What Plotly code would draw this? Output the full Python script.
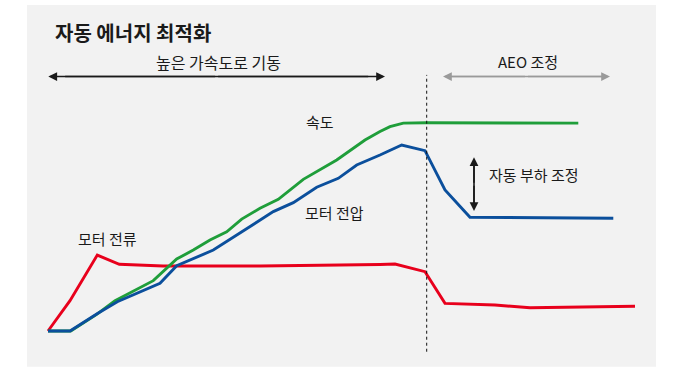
import plotly.graph_objects as go

# ---- data (time in s, value in % of max) ----
speed_t = [0, 2.27, 4.87, 6.7, 10.53, 12.87, 14.53, 16.2, 17.87, 19.37, 21.2, 23.03, 25.53, 28.87, 31.7, 33.2, 34.2, 35.53, 37.87, 53.03]
speed_v = [0, 0, 8.0, 14.6, 24.2, 34.6, 38.9, 43.75, 47.7, 53.8, 59.0, 63.3, 72.9, 82.2, 91.8, 95.9, 98.2, 99.9, 100.1, 99.9]

volt_t = [0, 2.2, 4.87, 6.93, 11.2, 12.87, 16.53, 20.2, 22.53, 24.53, 26.87, 29.03, 30.87, 33.2, 35.37, 37.7, 39.7, 42.2, 56.53]
volt_v = [0, 0, 8.2, 14.1, 22.9, 31.4, 38.9, 50.1, 57.4, 61.7, 69.1, 73.4, 79.8, 84.6, 89.4, 86.7, 67.8, 54.7, 54.2]

curr_t = [0, 2.2, 4.93, 7.13, 11.5, 21.2, 33.2, 34.7, 37.7, 39.7, 44.7, 48.2, 58.7]
curr_v = [0, 14.6, 36.5, 32.1, 31.25, 31.25, 32.0, 32.2, 28.5, 13.3, 12.5, 11.2, 11.9]

phase_switch_t = 37.87
phase1 = [0.03, 33.7]
phase2 = [39.5, 56.2]
load_adjust = [83.5, 57.7]
load_adjust_t = 42.6

title = "자동 에너지 최적화"
phase1_label = "높은 가속도로 기동"
phase2_label = "AEO 조정"
speed_label = "속도"
volt_label = "모터 전압"
curr_label = "모터 전류"
load_label = "자동 부하 조정"

FONT = "Noto Sans CJK KR"
TXT = "#1a1a1a"

fig = go.Figure()
fig.add_trace(go.Scatter(x=curr_t, y=curr_v, mode="lines",
                         line=dict(color="#e8001c", width=2.9), hoverinfo="skip"))
fig.add_trace(go.Scatter(x=speed_t, y=speed_v, mode="lines",
                         line=dict(color="#1f9e3a", width=2.9), hoverinfo="skip"))
fig.add_trace(go.Scatter(x=volt_t, y=volt_v, mode="lines",
                         line=dict(color="#0b4f9c", width=2.9), hoverinfo="skip"))

shapes = [
    dict(type="rect", xref="paper", yref="paper", x0=0.0395, x1=0.9605, y0=0.0273, y1=0.9867,
         fillcolor="#f2f2f2", line=dict(width=0), layer="below"),
    dict(type="line", xref="x", yref="y", x0=phase_switch_t, x1=phase_switch_t, y0=-9.95, y1=123.1,
         line=dict(color="#111111", width=1, dash="3px,3px")),
]

ann = []
def darrow(x0, x1, y0, y1, color):
    xm, ym = (x0 + x1) / 2, (y0 + y1) / 2
    shapes.append(dict(type="line", xref="x", yref="y", x0=x0 + (x1 - x0) * 0.05, x1=x1 - (x1 - x0) * 0.05,
                       y0=y0 + (y1 - y0) * 0.05, y1=y1 - (y1 - y0) * 0.05,
                       line=dict(color=color, width=1.6)))
    for (xe, ye) in [(x0, y0), (x1, y1)]:
        ann.append(dict(x=xe, y=ye, ax=xm, ay=ym, xref="x", yref="y", axref="x", ayref="y",
                        text="", showarrow=True, arrowhead=2, arrowsize=1.1, arrowwidth=1.6,
                        arrowcolor=color))

darrow(phase1[0], phase1[1], 122.3, 122.3, "#1a1a1a")
darrow(phase2[0], phase2[1], 122.3, 122.3, "#9a9a9a")
darrow(load_adjust_t, load_adjust_t, load_adjust[0], load_adjust[1], "#1a1a1a")

def label(x, y, text, size=15, xanchor="center", bold=False):
    ann.append(dict(x=x, y=y, xref="x", yref="y", text=("<b>%s</b>" % text) if bold else text,
                    showarrow=False, xanchor=xanchor, yanchor="middle",
                    font=dict(family=FONT, size=size, color=TXT)))

label(0.53, 143.6, title, size=20, xanchor="left", bold=True)
label(17.03, 129.2, phase1_label, size=16)
label(48.0, 129.6, phase2_label, size=15)
label(27.2, 100.6, speed_label, size=15)
label(28.6, 56.8, volt_label, size=15)
label(5.95, 44.4, curr_label, size=15)
label(43.87, 75.2, load_label, size=15, xanchor="left")

fig.update_layout(
    width=683, height=377, margin=dict(l=0, r=0, t=0, b=0),
    paper_bgcolor="white", plot_bgcolor="rgba(0,0,0,0)",
    showlegend=False, shapes=shapes, annotations=ann,
    xaxis=dict(range=[-4.8, 63.5], visible=False, fixedrange=True),
    yaxis=dict(range=[-22.1, 159.1], visible=False, fixedrange=True),
)
fig.write_html("out.html", config={"displayModeBar": False})
